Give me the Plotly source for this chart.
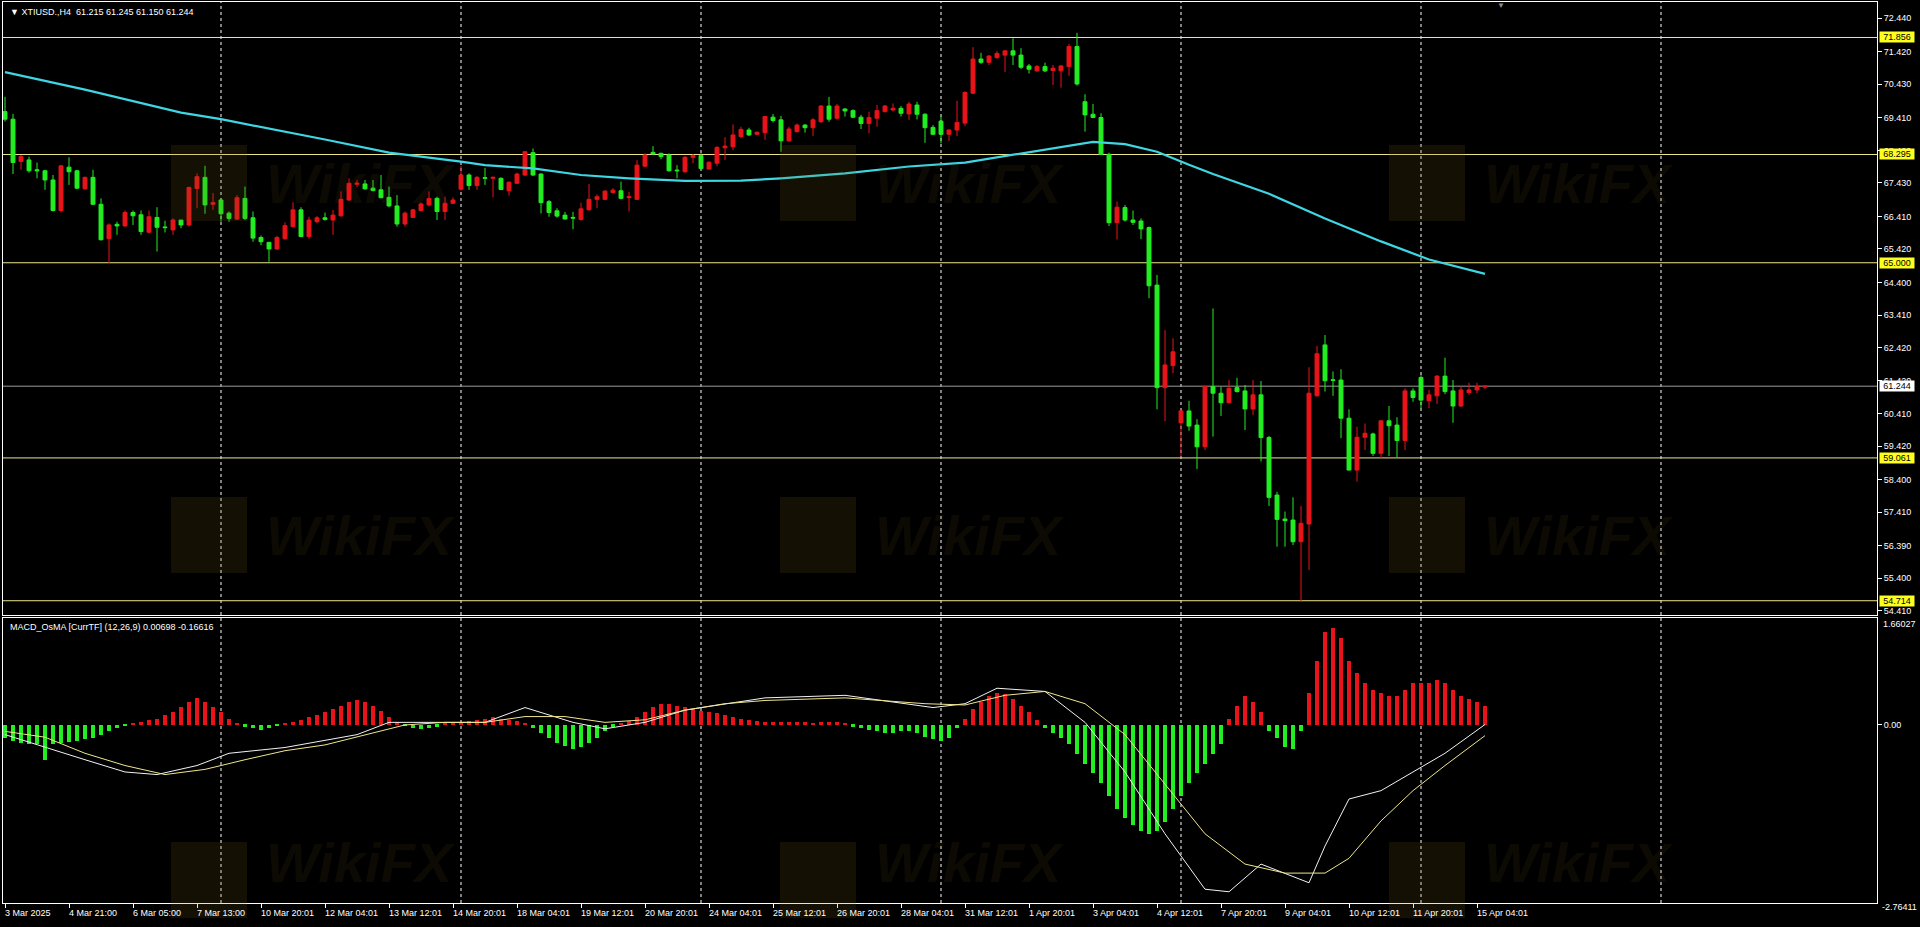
import plotly.graph_objects as go
from plotly.subplots import make_subplots

# ---------------- data ----------------
bar_index = list(range(186))

opens = [69.60,69.37,68.08,68.13,67.83,67.80,67.52,66.59,67.91,67.80,
         67.25,67.60,66.78,65.73,66.17,66.12,66.53,66.46,65.93,66.38,
         66.09,66.00,66.30,66.15,67.26,67.60,66.78,66.91,66.51,66.33,
         66.96,66.37,65.77,65.62,65.42,65.73,66.10,66.61,65.80,66.25,
         66.37,66.30,66.43,66.91,67.39,67.40,67.27,67.22,66.99,66.73,
         66.18,66.38,66.59,66.76,66.96,66.56,66.81,67.24,67.67,67.35,
         67.59,67.57,67.57,67.19,67.42,67.67,68.35,67.70,66.86,66.58,
         66.45,66.38,66.32,66.61,66.93,66.93,67.14,67.19,66.98,66.93,
         67.94,68.36,68.33,68.28,67.82,67.77,68.21,68.26,67.85,68.03,
         68.50,68.53,68.84,69.04,68.91,68.96,69.43,69.35,68.71,68.99,
         69.19,69.11,69.29,69.77,69.40,69.68,69.63,69.43,69.24,69.40,
         69.60,69.65,69.70,69.53,69.80,69.52,69.12,69.31,68.91,69.04,
         69.25,70.16,71.20,71.10,71.24,71.32,71.45,71.32,70.99,70.84,
         70.97,70.85,70.84,70.97,71.58,69.90,69.52,69.42,68.30,66.22,
         66.68,66.30,66.27,66.07,64.32,61.20,61.87,60.13,60.49,60.06,
         59.40,61.23,61.03,60.74,61.20,61.10,60.55,60.98,59.68,57.93,
         57.20,57.17,56.51,57.05,60.95,62.50,61.44,61.43,60.27,58.69,
         59.69,59.79,59.20,60.19,60.06,59.59,61.10,61.51,60.80,60.95,
         61.55,61.10,60.64,61.05,61.13,61.215]
highs = [70.05,69.53,68.28,68.23,68.05,67.83,67.67,67.98,68.21,67.83,
         67.62,67.83,66.96,66.20,66.25,66.59,66.59,66.59,66.59,66.69,
         66.28,66.35,66.30,67.32,67.72,67.95,67.12,66.96,66.56,67.06,
         67.32,66.56,65.83,65.64,65.82,66.23,66.84,66.69,66.40,66.42,
         66.53,66.61,67.17,67.57,67.52,67.52,67.52,67.67,67.32,67.06,
         66.56,66.64,66.83,67.17,67.01,67.01,66.99,67.95,67.72,67.64,
         67.88,67.62,67.60,67.47,67.74,68.38,68.48,67.72,66.91,66.66,
         66.55,66.55,66.83,67.40,67.08,67.21,67.27,67.47,67.16,68.13,
         68.33,68.55,68.35,68.33,67.97,68.25,68.31,68.33,68.08,68.55,
         68.82,69.21,69.14,69.11,69.00,69.47,69.53,69.47,69.14,69.24,
         69.22,69.40,69.79,70.05,69.83,69.70,69.67,69.50,69.60,69.80,
         69.80,69.85,69.77,69.90,69.90,69.55,69.19,69.47,69.06,69.93,
         70.22,71.56,71.39,71.32,71.45,71.45,71.83,71.53,71.05,71.02,
         71.09,71.02,71.02,71.66,72.00,70.13,69.83,69.55,68.35,66.86,
         66.76,66.59,66.35,66.10,64.63,62.95,62.70,60.52,60.80,60.24,
         61.25,63.61,61.23,61.43,61.50,61.28,61.43,61.40,59.73,58.03,
         57.43,57.86,57.60,61.82,62.47,62.80,61.69,61.76,60.54,60.01,
         60.11,59.83,60.19,60.64,60.30,61.18,61.18,61.58,61.13,61.58,
         62.11,61.43,61.23,61.35,61.35,61.245]
lows = [69.30,67.70,67.83,67.74,67.57,67.22,66.56,66.53,67.37,67.24,
        67.22,66.76,65.68,64.99,65.85,66.10,66.15,65.85,65.90,65.34,
        65.92,65.85,66.05,66.10,66.66,66.49,66.61,66.25,66.25,66.30,
        66.30,65.64,65.54,65.03,65.39,65.70,66.08,65.78,65.73,66.20,
        66.28,65.85,66.40,66.89,67.30,67.22,67.17,66.96,66.69,66.10,
        66.10,66.38,66.56,66.71,66.30,66.30,66.79,67.20,67.22,67.22,
        67.37,66.99,67.21,67.04,67.40,67.64,67.64,66.50,66.40,66.37,
        66.32,66.02,66.28,66.59,66.66,66.91,67.11,66.93,66.56,66.91,
        67.92,68.30,68.15,67.77,67.57,67.74,68.03,67.84,67.84,67.94,
        68.13,68.43,68.79,68.86,68.90,68.74,69.27,68.38,68.68,68.97,
        68.96,68.86,69.26,69.29,69.35,69.45,69.40,69.07,68.94,69.14,
        69.57,69.60,69.45,69.35,69.36,68.65,68.89,68.63,68.71,68.86,
        69.16,70.14,71.05,71.02,71.22,70.81,71.02,70.90,70.76,70.81,
        70.80,70.41,70.33,70.69,70.39,68.99,69.40,68.28,66.12,65.71,
        66.25,66.15,65.72,63.92,60.54,60.18,61.64,59.10,59.89,58.72,
        59.30,59.71,60.34,60.72,61.05,59.91,60.37,58.95,57.60,56.36,
        56.36,56.41,54.69,55.65,60.93,61.08,60.95,59.66,58.69,58.34,
        59.30,59.12,59.05,59.12,59.08,59.30,60.77,60.57,60.57,60.70,
        61.00,60.13,60.62,60.98,61.03,61.150]
closes = [69.37,68.05,68.23,67.80,67.80,67.52,66.59,67.95,67.77,67.27,
          67.60,66.78,65.70,66.15,66.12,66.53,66.43,65.95,66.40,66.08,
          66.07,66.30,66.15,67.29,67.62,66.76,66.83,66.49,66.35,66.98,
          66.35,65.75,65.64,65.42,65.77,66.13,66.61,65.80,66.30,66.37,
          66.32,66.45,66.93,67.42,67.42,67.25,67.20,66.98,66.73,66.18,
          66.51,66.61,66.79,66.96,66.56,66.81,66.91,67.67,67.35,67.60,
          67.57,67.60,67.23,67.45,67.70,68.38,67.67,66.83,66.53,66.42,
          66.33,66.36,66.64,66.93,67.01,67.18,67.21,66.96,67.01,67.97,
          68.28,68.31,68.23,67.80,67.80,68.21,68.26,67.87,68.06,68.51,
          68.55,68.89,69.06,68.89,68.97,69.45,69.33,68.71,69.07,69.19,
          69.11,69.35,69.77,69.37,69.77,69.62,69.43,69.24,69.42,69.63,
          69.77,69.70,69.55,69.83,69.52,69.11,68.91,68.91,69.04,69.27,
          70.18,71.20,71.10,71.29,71.37,71.45,71.32,70.95,70.89,70.97,
          70.84,70.92,70.99,71.58,70.44,69.50,69.42,68.30,66.22,66.69,
          66.30,66.23,66.03,64.30,61.20,61.89,62.29,60.49,60.03,59.40,
          61.24,61.03,60.74,61.18,61.08,60.55,60.98,59.68,57.86,57.19,
          57.15,56.51,57.07,61.03,62.23,61.41,61.42,60.27,58.69,59.69,
          59.81,59.20,60.19,60.04,59.59,61.10,60.90,60.82,60.98,61.55,
          61.08,60.64,61.13,61.13,61.23,61.244]

# moving average (cyan) read at selected bars
ma_x = [0, 10, 22, 27, 40, 48, 57, 60, 66, 72, 78, 85, 92, 97, 105, 113, 120,
        126, 132, 136, 140, 144, 148, 151, 158, 165, 172, 178, 185]
ma_vals = [70.80, 70.27, 69.57, 69.37, 68.75, 68.35, 68.08, 67.97, 67.87, 67.67,
           67.57, 67.49, 67.50, 67.57, 67.72, 67.93, 68.05, 68.28, 68.53, 68.68,
           68.61, 68.38, 67.98, 67.70, 67.10, 66.35, 65.65, 65.10, 64.66]

# horizontal levels
levels_yellow = [71.856, 68.295, 65.000, 59.061, 54.714]
level_price = 61.244

# right axis tick labels
price_ticks = [72.440, 71.420, 70.430, 69.410, 68.420, 67.430, 66.410, 65.420,
               64.400, 63.410, 62.420, 61.420, 60.410, 59.420, 58.400, 57.410,
               56.390, 55.400, 54.410]

# MACD OsMA histogram (one value per bar)
hist = ([-0.2,-0.25,-0.28,-0.3,-0.3,-0.55,-0.3,-0.28,-0.27,-0.25,-0.22,-0.2,-0.15,-0.1,-0.05]
        + [-0.02,0.02,0.05,0.08]
        + [0.1,0.15,0.2,0.28,0.35,0.42,0.35,0.28,0.2,0.1]
        + [0.03,-0.03,-0.05,-0.08,-0.05,-0.02,0.02]
        + [0.05,0.08,0.12,0.15,0.2,0.25,0.3,0.35,0.38,0.35,0.3,0.22,0.12,0.05]
        + [-0.02,-0.05,-0.06,-0.05,-0.03,0.02,0.03,0.05]
        + [0.06,0.08,0.1,0.12,0.1,0.08,0.06,0.03]
        + [-0.05,-0.12,-0.2,-0.28,-0.33,-0.38,-0.35,-0.28,-0.2,-0.1]
        + [-0.03,0.02,0.06]
        + [0.12,0.2,0.28,0.33,0.33,0.3,0.28,0.25,0.22,0.2,0.18,0.15,0.12,0.1,0.08,0.06]
        + [0.05,0.05,0.04,0.04,0.05,0.04,0.03,0.04,0.05,0.04,0.03]
        + [-0.03,-0.05,-0.08,-0.1,-0.12,-0.12,-0.1,-0.1,-0.12,-0.18,-0.22,-0.25,-0.2,-0.05]
        + [0.1,0.25,0.35,0.45,0.5,0.48,0.4,0.3,0.2,0.08]
        + [-0.05,-0.12,-0.2,-0.3,-0.45,-0.6,-0.75,-0.9,-1.1,-1.3,-1.45,-1.55,-1.65,-1.7,
           -1.65,-1.5,-1.3,-1.1,-0.9,-0.75,-0.6,-0.45,-0.3]
        + [0.1,0.3,0.45,0.35,0.2]
        + [-0.1,-0.2,-0.35,-0.38,-0.1]
        + [0.5,1.0,1.45,1.5,1.35,1.0,0.8,0.65,0.55,0.5,0.45,0.45,0.55,0.65,0.65,0.65,
           0.7,0.65,0.55,0.45,0.4,0.35,0.3])

# MACD main line (white) and signal line (khaki), read at selected bars
macd_x = [0, 5, 10, 15, 19, 24, 28, 35, 44, 48, 55, 60, 65, 71, 75, 80, 85, 95, 105,
          116, 120, 124, 130, 135, 140, 145, 150, 153, 157, 160, 163, 165, 168, 172,
          176, 180, 185]
macd_vals = [-0.15, -0.35, -0.54, -0.73, -0.77, -0.63, -0.44, -0.35, -0.15, 0.04, 0.04,
             0.04, 0.27, 0.04, -0.06, 0.04, 0.23, 0.42, 0.46, 0.27, 0.33, 0.57, 0.52,
             0.04, -0.73, -1.69, -2.55, -2.59, -2.16, -2.30, -2.45, -1.88, -1.15, -1.02,
             -0.73, -0.44, 0.007]
signal_x = [0, 5, 10, 15, 20, 25, 30, 35, 40, 45, 50, 55, 60, 65, 70, 75, 80, 85, 90,
            95, 105, 115, 120, 125, 130, 135, 140, 145, 150, 155, 160, 165, 168, 172,
            176, 180, 185]
signal_vals = [-0.1, -0.19, -0.44, -0.63, -0.77, -0.69, -0.54, -0.40, -0.31, -0.15,
               0.0, 0.04, 0.04, 0.13, 0.13, 0.04, 0.08, 0.23, 0.33, 0.38, 0.42, 0.33,
               0.31, 0.46, 0.52, 0.33, -0.15, -0.92, -1.69, -2.16, -2.30, -2.30, -2.07,
               -1.49, -1.02, -0.63, -0.166]
macd_range = [-2.76411, 1.66027]

# time axis labels (every 8th bar)
label_bars = list(range(0, 186, 8))
label_texts = ["3 Mar 2025", "4 Mar 21:00", "6 Mar 05:00", "7 Mar 13:00", "10 Mar 20:01",
               "12 Mar 04:01", "13 Mar 12:01", "14 Mar 20:01", "18 Mar 04:01", "19 Mar 12:01",
               "20 Mar 20:01", "24 Mar 04:01", "25 Mar 12:01", "26 Mar 20:01", "28 Mar 04:01",
               "31 Mar 12:01", "1 Apr 20:01", "3 Apr 04:01", "4 Apr 12:01", "7 Apr 20:01",
               "9 Apr 04:01", "10 Apr 12:01", "11 Apr 20:01", "15 Apr 04:01"]
grid_bars = [27, 57, 87, 117, 147, 177, 207]

title_text = "XTIUSD.,H4  61.215 61.245 61.150 61.244"
macd_title = "MACD_OsMA [CurrTF] (12,26,9) 0.00698 -0.16616"

# ---------------- styling ----------------
W, H = 1920, 927
ML, MR, MT, MB = 3, 43, 2, 24
PW, PH = W - ML - MR, H - MT - MB
FONT = "Liberation Sans, Arial, sans-serif"
FS = 9
RED = "#E8141A"
GREEN = "#22EE22"
CYAN = "#3FD6E4"
LEVEL = "#EEE68C"
WHITE = "#FFFFFF"


def px_x(p):
    return (p - ML) / PW


def px_y(p):
    return (H - MB - p) / PH


main_dom = [px_y(615), 1.0]
macd_dom = [0.0, px_y(618)]

fig = make_subplots(rows=2, cols=1, shared_xaxes=True)

fig.add_trace(go.Candlestick(
    x=bar_index, open=opens, high=highs, low=lows, close=closes,
    increasing=dict(line=dict(color=RED, width=1), fillcolor=RED),
    decreasing=dict(line=dict(color=GREEN, width=1), fillcolor=GREEN),
    whiskerwidth=0, showlegend=False, hoverinfo="skip"), row=1, col=1)

fig.add_trace(go.Scatter(x=ma_x, y=ma_vals, mode="lines", line=dict(color=CYAN, width=2.2),
                         showlegend=False, hoverinfo="skip"), row=1, col=1)

fig.add_trace(go.Bar(x=bar_index, y=hist, width=0.4,
                     marker=dict(color=[RED if v >= 0 else GREEN for v in hist], line=dict(width=0)),
                     showlegend=False, hoverinfo="skip"), row=2, col=1)
fig.add_trace(go.Scatter(x=macd_x, y=macd_vals, mode="lines", line=dict(color="#F2F2F2", width=1),
                         showlegend=False, hoverinfo="skip"), row=2, col=1)
fig.add_trace(go.Scatter(x=signal_x, y=signal_vals, mode="lines", line=dict(color="#F0E68C", width=1),
                         showlegend=False, hoverinfo="skip"), row=2, col=1)

xr = [(ML - 5) / 8.0, (W - MR - 5) / 8.0]
axis_common = dict(showgrid=False, zeroline=False, showline=True, linecolor=WHITE,
                   linewidth=1, mirror=True)

fig.update_layout(
    width=W, height=H,
    margin=dict(l=ML, r=MR, t=MT, b=MB, pad=0),
    paper_bgcolor="black", plot_bgcolor="black",
    font=dict(family=FONT, size=FS, color=WHITE),
    bargap=0, showlegend=False,
    xaxis=dict(range=xr, showticklabels=False, ticks="", rangeslider=dict(visible=False),
               **axis_common),
    xaxis2=dict(range=xr, tickvals=label_bars, showticklabels=False, ticks="outside",
                ticklen=4, tickcolor=WHITE, **axis_common),
    yaxis=dict(domain=main_dom, range=[54.28, 72.936], side="right",
               tickvals=price_ticks, ticktext=["%.3f" % v for v in price_ticks],
               ticks="outside", ticklen=4, tickcolor=WHITE,
               tickfont=dict(family=FONT, size=FS, color=WHITE), **axis_common),
    yaxis2=dict(domain=macd_dom, range=macd_range, side="right",
                tickvals=[0], ticktext=["0.00"], ticks="outside", ticklen=4, tickcolor=WHITE,
                tickfont=dict(family=FONT, size=FS, color=WHITE), **axis_common),
)
fig.update_xaxes(rangeslider_visible=False)

shapes = []
annotations = []

# dashed vertical grid
for g in grid_bars:
    shapes.append(dict(type="line", xref="x", yref="paper", x0=g, x1=g, y0=0, y1=1,
                       line=dict(color=WHITE, width=1, dash="3px,3px"), layer="below"))

# level lines
for lv in levels_yellow:
    shapes.append(dict(type="line", xref="paper", yref="y", x0=0, x1=1, y0=lv, y1=lv,
                       line=dict(color=LEVEL, width=1), layer="below"))
    annotations.append(dict(xref="paper", yref="y", x=1, y=lv, xanchor="left", yanchor="middle",
                            xshift=2, text="%.3f" % lv, showarrow=False, bgcolor="#FFFF1E",
                            borderpad=0, width=34, height=10, align="center",
                            font=dict(family=FONT, size=FS, color="black")))
shapes.append(dict(type="line", xref="paper", yref="y", x0=0, x1=1, y0=level_price, y1=level_price,
                   line=dict(color="#9A9A9A", width=1), layer="below"))
annotations.append(dict(xref="paper", yref="y", x=1, y=level_price, xanchor="left", yanchor="middle",
                        xshift=2, text="%.3f" % level_price, showarrow=False, bgcolor="#FFFFFF",
                        borderpad=0, width=34, height=10, align="center",
                        font=dict(family=FONT, size=FS, color="black")))

# MACD scale extremes
annotations.append(dict(xref="paper", yref="paper", x=1, y=px_y(624), xanchor="left", yanchor="middle",
                        xshift=4, text="%.5f" % macd_range[1], showarrow=False,
                        font=dict(family=FONT, size=FS, color=WHITE)))
annotations.append(dict(xref="paper", yref="paper", x=1, y=px_y(907), xanchor="left", yanchor="middle",
                        xshift=3, text="%.5f" % macd_range[0], showarrow=False,
                        font=dict(family=FONT, size=FS, color=WHITE)))

# time labels
for b, t in zip(label_bars, label_texts):
    annotations.append(dict(xref="x2", yref="paper", x=b, y=px_y(913), xanchor="left",
                            yanchor="middle", xshift=-1, text=t, showarrow=False, borderpad=0,
                            font=dict(family=FONT, size=FS, color=WHITE)))

# titles
annotations.append(dict(xref="paper", yref="paper", x=px_x(8), y=px_y(12), xanchor="left",
                        yanchor="middle", text="▼ " + title_text, showarrow=False,
                        font=dict(family=FONT, size=FS, color=WHITE)))
annotations.append(dict(xref="paper", yref="paper", x=px_x(8), y=px_y(627), xanchor="left",
                        yanchor="middle", text=macd_title, showarrow=False,
                        font=dict(family=FONT, size=FS, color=WHITE)))
annotations.append(dict(xref="paper", yref="paper", x=px_x(1501), y=px_y(5), xanchor="center",
                        yanchor="middle", text="▼", showarrow=False,
                        font=dict(family=FONT, size=8, color="#8A8A8A")))

# faint watermark
for cy, ty in ((183, 183), (535, 535), (880, 862)):
    for cx in (209, 818, 1427):
        shapes.append(dict(type="rect", xref="paper", yref="paper",
                           x0=px_x(cx - 38), x1=px_x(cx + 38), y0=px_y(cy + 38), y1=px_y(cy - 38),
                           fillcolor="rgba(120,95,25,0.17)", line=dict(width=0), layer="above"))
        annotations.append(dict(xref="paper", yref="paper", x=px_x(cx + 55), y=px_y(ty),
                                xanchor="left", yanchor="middle", text="<b><i>WikiFX</i></b>",
                                showarrow=False,
                                font=dict(family=FONT, size=56, color="rgba(120,95,25,0.11)")))

fig.update_layout(shapes=shapes, annotations=annotations)

fig.write_html("out.html", config={"displayModeBar": False},
               post_script="document.body.style.margin='0px';document.body.style.overflow='hidden';")
